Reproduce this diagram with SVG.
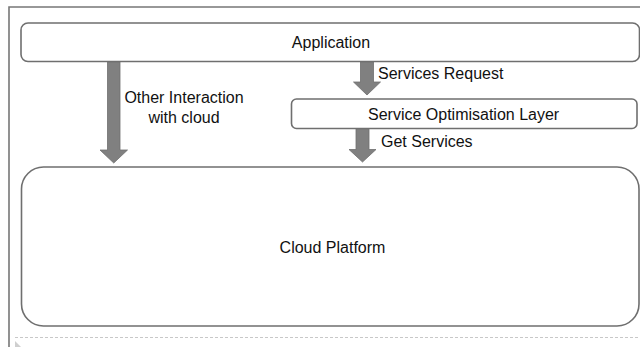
<svg xmlns="http://www.w3.org/2000/svg" width="640" height="347" viewBox="0 0 640 347">
<style>
.box{fill:#fff;stroke:#6f6f6f;stroke-width:1.6}
.arrow{fill:#808080;stroke:#6e6e6e;stroke-width:0.8}
text{font-family:"Liberation Sans",Arial,sans-serif;font-size:16px;fill:#111}
.c{text-anchor:middle}
</style>
<rect width="640" height="347" fill="#fff"/>
<g id="frame">
<path d="M9,348 V7 H641" fill="none" stroke="#777" stroke-width="1.6"/>
<line x1="15" y1="337.5" x2="640" y2="337.5" stroke="#c8c8c8" stroke-width="1" stroke-dasharray="3,2"/>
<polygon points="15,341 21,347 15,347" fill="#cfcfcf"/>
</g>
<g id="application">
<rect class="box" x="21" y="23" width="618.5" height="38.5" rx="7"/>
<text class="c" x="331" y="48">Application</text>
</g>
<g id="sol">
<rect class="box" x="291.5" y="99" width="345.5" height="29.5" rx="5"/>
<text x="368" y="119.5">Service Optimisation Layer</text>
</g>
<g id="cloud">
<rect class="box" x="21.5" y="167" width="617.5" height="159" rx="22"/>
<text class="c" x="332.5" y="253">Cloud Platform</text>
</g>
<g id="connectors">
<polygon class="arrow" points="107.5,62 120,62 120,150 127.5,150 113.75,163 100,150 107.5,150"/>
<polygon class="arrow" points="360.5,62 373.5,62 373.5,82 380.5,82 367,95 353.5,82 360.5,82"/>
<polygon class="arrow" points="356,129 369,129 369,149.5 376,149.5 362.5,162 349,149.5 356,149.5"/>
<text x="378" y="79.3">Services Request</text>
<text x="381" y="146.7">Get Services</text>
<text class="c" x="184" y="103.3">Other Interaction</text>
<text class="c" x="184" y="123">with cloud</text>
</g>
</svg>
